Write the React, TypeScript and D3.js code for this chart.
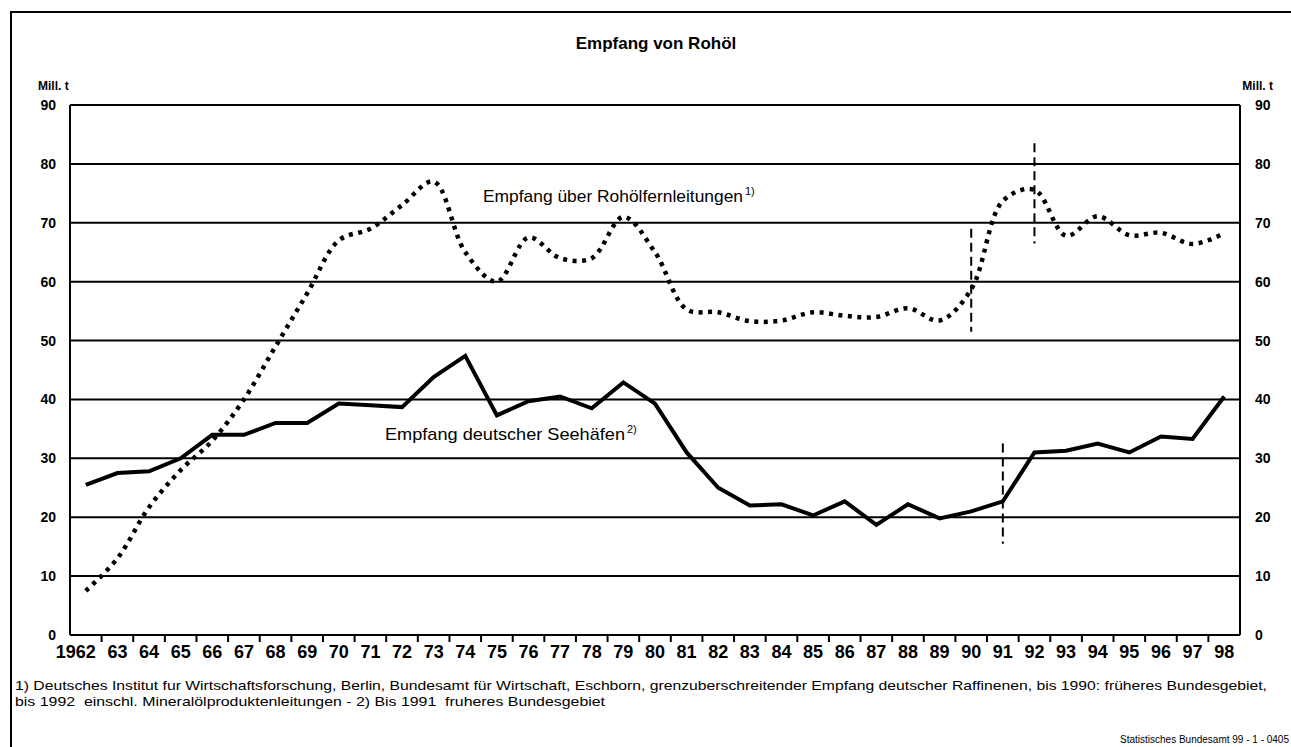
import React from 'react';
import * as d3 from 'd3';

// Jahre 1962 - 1998
const years: string[] = [
  '1962', '63', '64', '65', '66', '67', '68', '69', '70', '71', '72', '73', '74',
  '75', '76', '77', '78', '79', '80', '81', '82', '83', '84', '85', '86', '87',
  '88', '89', '90', '91', '92', '93', '94', '95', '96', '97', '98',
];

// Empfang über Rohölfernleitungen (Mill. t)
const pipeline: number[] = [
  7.5, 13, 21.7, 28, 33, 40, 49, 58, 67, 69, 73, 77, 65,
  60, 67.5, 64, 64, 71, 65, 55.3, 54.8, 53.3, 53.4, 54.8, 54.2, 54,
  55.5, 53.4, 58.7, 73.7, 75.6, 67.8, 71.1, 67.9, 68.3, 66.4, 68.2,
];

// Empfang deutscher Seehäfen (Mill. t)
const seaports: number[] = [
  25.5, 27.5, 27.8, 30, 34, 34, 36, 36, 39.3, 39, 38.7, 43.8, 47.4,
  37.3, 39.7, 40.5, 38.5, 42.9, 39.3, 31, 25, 22, 22.2, 20.3, 22.7, 18.7,
  22.2, 19.8, 21, 22.7, 31, 31.3, 32.5, 31, 33.7, 33.3, 40.5,
];

const yTicks: number[] = [0, 10, 20, 30, 40, 50, 60, 70, 80, 90];

// Bruchstellen (gestrichelte Senkrechte)
const breakYears: string[] = ['90', '92', '91'];
const breakFrom: number[] = [51.5, 66.5, 15.5];
const breakTo: number[] = [69, 83.5, 32.5];

const footLine1 =
  '1) Deutsches Institut fur Wirtschaftsforschung, Berlin, Bundesamt für Wirtschaft, Eschborn, grenzuberschreitender Empfang deutscher Raffinenen, bis 1990: früheres Bundesgebiet,';
const footLine2 =
  'bis 1992  einschl. Mineralölproduktenleitungen - 2) Bis 1991  fruheres Bundesgebiet';

const W = 1291;
const H = 747;
const FONT = '"Liberation Sans", Arial, Helvetica, sans-serif';

export default function App() {
  const left = 70;
  const right = 1240;
  const top = 105;
  const bottom = 635;

  const x = d3.scaleBand<string>().domain(years).range([left, right]);
  const cx = (yr: string) => (x(yr) as number) + x.bandwidth() / 2;
  const y = d3.scaleLinear().domain([0, 90]).range([bottom, top]);

  const linePipe = d3
    .line<number>()
    .x((_, i) => cx(years[i]))
    .y((d) => y(d))
    .curve(d3.curveCatmullRom.alpha(0.5));

  const linePort = d3
    .line<number>()
    .x((_, i) => cx(years[i]))
    .y((d) => y(d));

  return (
    <svg
      width={W}
      height={H}
      style={{ position: 'absolute', left: 0, top: 0, background: '#fff' }}
      fontFamily={FONT}
    >
      <rect x={11} y={12} width={1290} height={760} fill="none" stroke="#000" strokeWidth={2} />

      <text x={656} y={49} textAnchor="middle" fontSize={17} fontWeight="bold">
        Empfang von Rohöl
      </text>

      {/* Gitterlinien */}
      {yTicks.map((t) => (
        <line key={'g' + t} x1={left} x2={right} y1={y(t)} y2={y(t)} stroke="#000" strokeWidth={2} />
      ))}
      <line x1={left} x2={left} y1={top} y2={bottom} stroke="#000" strokeWidth={2} />
      <line x1={right} x2={right} y1={top} y2={bottom} stroke="#000" strokeWidth={2} />

      {/* Achsenbeschriftung links / rechts */}
      <text x={38} y={90} fontSize={12} fontWeight="bold">Mill. t</text>
      <text x={1273} y={90} fontSize={12} fontWeight="bold" textAnchor="end">Mill. t</text>
      {yTicks.map((t) => (
        <g key={'yl' + t} fontSize={14} fontWeight="bold">
          <text x={56} y={y(t) + 5} textAnchor="end">{t}</text>
          <text x={1255} y={y(t) + 5}>{t}</text>
        </g>
      ))}

      {/* X-Achse Striche und Jahre */}
      {years.map((yr, i) => (
        <g key={'x' + yr}>
          {i > 0 && (
            <line
              x1={x(yr) as number}
              x2={x(yr) as number}
              y1={bottom}
              y2={bottom + 7}
              stroke="#000"
              strokeWidth={2}
            />
          )}
          <text
            x={i === 0 ? cx(yr) + 10 : cx(yr)}
            y={658}
            textAnchor={i === 0 ? 'end' : 'middle'}
            fontSize={18}
            fontWeight="bold"
          >
            {yr}
          </text>
        </g>
      ))}

      {/* Bruchstellen */}
      {breakYears.map((yr, i) => (
        <line
          key={'b' + yr}
          x1={cx(yr)}
          x2={cx(yr)}
          y1={y(breakTo[i])}
          y2={y(breakFrom[i])}
          stroke="#000"
          strokeWidth={2}
          strokeDasharray="9 5"
        />
      ))}

      {/* Linien */}
      <path d={linePipe(pipeline) || ''} fill="none" stroke="#000" strokeWidth={4.5} strokeDasharray="4 5.5" />
      <path d={linePort(seaports) || ''} fill="none" stroke="#000" strokeWidth={4} strokeLinejoin="miter" />

      {/* Serienbeschriftungen */}
      <text x={483} y={202} fontSize={17} textLength={260} lengthAdjust="spacingAndGlyphs">
        Empfang über Rohölfernleitungen
      </text>
      <text x={745} y={195} fontSize={11}>1)</text>
      <text x={385} y={440} fontSize={17} textLength={240} lengthAdjust="spacingAndGlyphs">
        Empfang deutscher Seehäfen
      </text>
      <text x={627} y={433} fontSize={11}>2)</text>

      {/* Fußnoten */}
      <text x={15} y={690} fontSize={13} textLength={1252} lengthAdjust="spacingAndGlyphs">
        {footLine1}
      </text>
      <text x={15} y={706} fontSize={13} style={{ whiteSpace: 'pre' }} textLength={590} lengthAdjust="spacingAndGlyphs">
        {footLine2}
      </text>
      <text x={1289} y={743} fontSize={10} textAnchor="end">
        Statistisches Bundesamt 99 - 1 - 0405
      </text>
    </svg>
  );
}
